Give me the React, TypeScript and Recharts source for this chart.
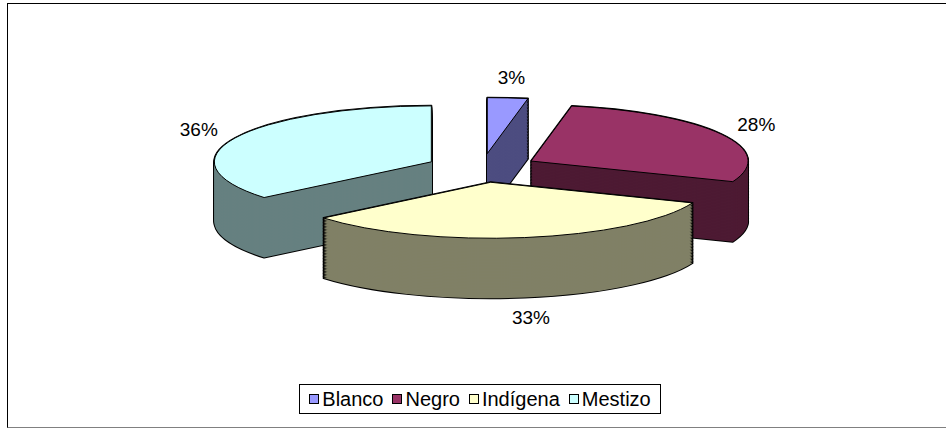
import { PieChart, Pie, Cell, Legend } from 'recharts'

const CATEGORIES = ['Blanco', 'Negro', 'Indígena', 'Mestizo']
const VALUES = [3, 28, 33, 36]
const TOP_COLORS = ['#9999ff', '#993366', '#ffffcc', '#ccffff']
const SIDE_COLORS = ['#4d4d80', '#4d1a33', '#808066', '#668080']
// back slices first, the front one (Indígena) last
const DRAW_ORDER = [0, 3, 1, 2]

const FONT = '"Liberation Sans", Arial, sans-serif'

// flattened 3d look: squash the pie vertically, stack darker copies for the walls
const K = 0.258
const CX = 482
const CY = 168
const R = 217
const EXPLODE = 56
const DEPTH = 60
const STEP = 1.5

const data = CATEGORIES.map((name, i) => ({ name, value: VALUES[i] }))
const total = VALUES.reduce((a, b) => a + b, 0)

// explode offset of every slice, along its mid angle
const explode = VALUES.map((v, i) => {
  const before = VALUES.slice(0, i).reduce((a, b) => a + b, 0)
  const mid = ((90 - (360 * (before + v / 2)) / total) * Math.PI) / 180
  return { dx: EXPLODE * Math.cos(mid), dy: -EXPLODE * Math.sin(mid) }
})

function renderLabel(p: any, idx: number) {
  if (p.index !== idx) return null
  const a = (p.midAngle * Math.PI) / 180
  const ry = p.outerRadius * K
  const x = p.cx + (p.outerRadius + 40) * Math.cos(a)
  let y = CY + (p.cy - CY) * K - (ry + 20) * Math.sin(a)
  if (Math.sin(a) < 0) y += DEPTH
  return (
    <text key={`lbl-${idx}`} x={x} y={y} textAnchor="middle" dominantBaseline="central"
      fontSize={19} fontFamily={FONT} fill="#000">
      {`${Math.round(p.percent * 100)}%`}
    </text>
  )
}

type Kind = 'outline' | 'side' | 'top'

function slicePie(idx: number, depth: number, kind: Kind) {
  const off = explode[idx]
  return (
    <Pie
      key={`${kind}-${idx}-${depth}`}
      data={data}
      dataKey="value"
      nameKey="name"
      cx={CX + off.dx}
      cy={CY + off.dy + depth / K}
      outerRadius={R}
      innerRadius={0}
      startAngle={90}
      endAngle={-270}
      isAnimationActive={false}
      legendType="none"
      labelLine={false}
      label={kind === 'top' ? (p: any) => renderLabel(p, idx) : false}
    >
      {data.map((d, i) => (
        <Cell
          key={d.name}
          fill={i === idx ? (kind === 'top' ? TOP_COLORS[i] : SIDE_COLORS[i]) : 'none'}
          stroke={i === idx && kind !== 'side' ? '#000' : 'none'}
          strokeWidth={kind === 'outline' ? 2 : 1}
          strokeLinejoin="round"
        />
      ))}
    </Pie>
  )
}

function LegendBox() {
  return (
    <div style={{
      boxSizing: 'border-box', width: 362, height: 30, border: '1px solid #000',
      display: 'flex', alignItems: 'center', justifyContent: 'center', gap: 9,
      fontSize: 20, fontFamily: FONT, color: '#000', background: '#fff',
    }}>
      {CATEGORIES.map((c, i) => (
        <span key={c} style={{ display: 'flex', alignItems: 'center' }}>
          <span style={{
            display: 'inline-block', width: 8, height: 8, border: '1px solid #000',
            background: TOP_COLORS[i], marginRight: 3,
          }} />
          {c}
        </span>
      ))}
    </div>
  )
}

export default function App() {
  const pies: JSX.Element[] = []
  DRAW_ORDER.forEach(idx => {
    // outlined copies first, then plain fills on top: only the outer edge of the walls keeps a line
    for (let s = DEPTH; s >= 0; s -= STEP) pies.push(slicePie(idx, s, 'outline'))
    for (let s = DEPTH; s > 0; s -= STEP) pies.push(slicePie(idx, s, 'side'))
    pies.push(slicePie(idx, 0, 'top'))
  })

  return (
    <div className="pie3d" style={{
      position: 'absolute', left: 0, top: 0, width: 946, height: 429,
      overflow: 'hidden', background: '#fff',
    }}>
      <style>{`
        .pie3d path.recharts-sector {
          transform-box: view-box;
          transform-origin: 0px ${CY}px;
          transform: scale(1, ${K});
          vector-effect: non-scaling-stroke;
        }
      `}</style>
      <div style={{
        position: 'absolute', left: 7, top: 3, width: 960, height: 425,
        borderTop: '1px solid #000', borderLeft: '1px solid #000', borderBottom: '1px solid #808080',
        boxSizing: 'border-box',
      }} />
      <div style={{ position: 'absolute', left: 0, top: 0 }}>
        <PieChart width={946} height={429} margin={{ top: 0, right: 0, bottom: 0, left: 0 }}>
          {pies}
          <Legend
            content={() => <LegendBox />}
            wrapperStyle={{ position: 'absolute', left: 299, top: 384, width: 362, height: 30, bottom: 'auto' }}
          />
        </PieChart>
      </div>
    </div>
  )
}
